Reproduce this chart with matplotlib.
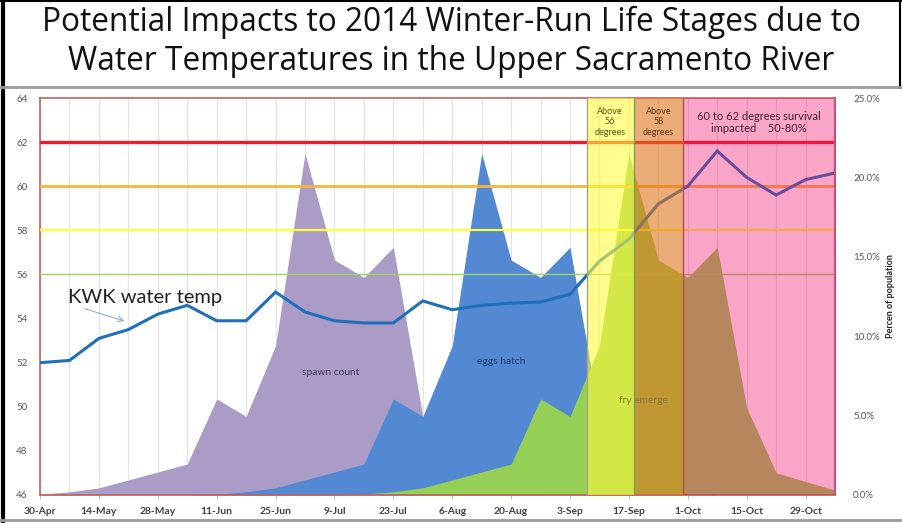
import matplotlib
matplotlib.use("Agg")
import matplotlib.pyplot as plt
from matplotlib.lines import Line2D

plt.rcParams['font.family'] = ['Lato', 'DejaVu Sans']

# weekly sample dates (2014)
dates = ['30-Apr', '7-May', '14-May', '21-May', '28-May', '4-Jun', '11-Jun', '18-Jun',
         '25-Jun', '2-Jul', '9-Jul', '16-Jul', '23-Jul', '30-Jul', '6-Aug', '13-Aug',
         '20-Aug', '27-Aug', '3-Sep', '10-Sep', '17-Sep', '24-Sep', '1-Oct', '8-Oct',
         '15-Oct', '22-Oct', '29-Oct', '5-Nov']

# KWK water temp (deg F)
temp = [52.0, 52.1, 53.1, 53.5, 54.2, 54.6, 53.9, 53.9, 55.2, 54.3, 53.9, 53.8, 53.8, 54.8,
        54.4, 54.6, 54.7, 54.75, 55.1, 56.6, 57.6, 59.2, 60.0, 61.6, 60.4, 59.6, 60.3, 60.6]

# percent of population
spawn = [0.05, 0.2, 0.45, 0.95, 1.45, 1.95, 6.05, 4.95, 9.4, 21.5, 14.8, 13.7, 15.6, 4.95,
         1.4, 0.85, 0.3, 0, 0, 0, 0, 0, 0, 0, 0, 0, 0, 0]
eggs = [0, 0, 0, 0, 0, 0, 0.05, 0.2, 0.45, 0.95, 1.45, 1.95, 6.05, 4.95,
        9.4, 21.5, 14.8, 13.7, 15.6, 4.95, 1.4, 0.85, 0.3, 0, 0, 0, 0, 0]
fry = [0, 0, 0, 0, 0, 0, 0, 0, 0, 0, 0, 0.05, 0.2, 0.45,
       0.95, 1.45, 1.95, 6.05, 4.95, 9.4, 21.5, 14.8, 13.7, 15.6, 5.5, 1.4, 0.85, 0.3]

# temperature thresholds
thresholds = [62, 60, 58, 56]
threshold_colors = ['#ee1d27', '#f8b53a', '#ffff3a', '#9fd35e']
threshold_widths = [2.4, 2.0, 1.6, 1.0]

# shaded windows (in week index)
bands = [(18.57, 20.17), (20.17, 21.83), (21.83, 27.0)]
band_colors = ['#fdfa3f', '#dd721a', '#f10c6a']
band_alphas = [0.6, 0.59, 0.37]
band_edges = ['#a8a878', '#7aa060', '#b05050']

x = list(range(len(dates)))

fig = plt.figure(figsize=(9.02, 5.23), dpi=100)
ax = fig.add_axes([40/902, 28/523, 795/902, 397/523])
ax2 = ax.twinx()
ax.set_zorder(ax2.get_zorder() + 1)
ax.patch.set_visible(False)
ax2.patch.set_visible(False)

# right axis: areas
ax2.vlines(x, 0, 25, color='#e4e4e4', lw=0.9, zorder=0)
ax2.fill_between(x, spawn, color='#ab9cc7', lw=0, zorder=1)
ax2.fill_between(x, eggs, color='#5289d2', lw=0, zorder=2)
ax2.fill_between(x, fry, color='#95cf55', lw=0, zorder=3)
ax2.set_ylim(0, 25)
ax2.set_yticks([0, 5, 10, 15, 20, 25])
ax2.set_yticklabels(['%.1f%%' % v for v in [0, 5, 10, 15, 20, 25]])
ax2.tick_params(axis='y', length=0, pad=13, labelsize=7, labelcolor='#595959')
for s in ax2.spines.values():
    s.set_visible(False)
ax2.set_ylabel('Percen of population', fontsize=6.5, fontweight='bold', color='#222222')
ax2.yaxis.set_label_coords(1.064, 0.5)

ax2.text(9.86, 7.7, 'spawn count', fontsize=7.4, color='#3f3a55', ha='center', va='center', zorder=4)
ax2.text(15.65, 8.4, 'eggs hatch', fontsize=7.4, color='#1f3a6e', ha='center', va='center', zorder=4)

# left axis: temperature
for t, c, w in zip(thresholds, threshold_colors, threshold_widths):
    ax.axhline(t, color=c, lw=w, zorder=3)
ax.plot(x, temp, color='#1f6fb9', lw=2.2, zorder=4, solid_joinstyle='miter')

for (a, b), c, al, ec in zip(bands, band_colors, band_alphas, band_edges):
    ax.axvspan(a, b, facecolor=c, alpha=al, lw=0, zorder=5)
    ax.axvline(a, color=ec, lw=1.0, zorder=5)
ax.axvline(bands[-1][1], color='#c8507a', lw=1.5, zorder=5)

ax.text(20.5, 50.3, 'fry emerge', fontsize=7.4, color='#8a7a3c', ha='center', va='center', zorder=6)
ax.text(19.35, 63.6, 'Above\n56\ndegrees', fontsize=6.5, color='#5c5c1e', ha='center', va='top',
        linespacing=1.2, zorder=6)
ax.text(21.0, 63.6, 'Above\n58\ndegrees', fontsize=6.5, color='#5e3418', ha='center', va='top',
        linespacing=1.2, zorder=6)
ax.text(24.4, 63.4, '60 to 62 degrees survival\nimpacted    50-80%', fontsize=8, color='#40202e',
        ha='center', va='top', linespacing=1.1, zorder=6)

ax.text(0.95, 54.72, 'KWK water temp', fontsize=14.5, color='#222222', ha='left', va='baseline', zorder=6)
ax.annotate('', xy=(2.96, 53.85), xytext=(1.43, 54.48),
            arrowprops=dict(arrowstyle='->', color='#8fb0d8', lw=0.8), zorder=6)

ax.set_xlim(0, len(dates) - 1)
ax.set_ylim(46, 64)
ax.set_yticks(range(46, 65, 2))
ax.tick_params(axis='y', length=0, pad=9, labelsize=7, labelcolor='#595959')
ax.set_xticks(x[::2])
ax.set_xticklabels(dates[::2], fontweight='bold')
ax.tick_params(axis='x', length=3, color='#bbbbbb', pad=6, labelsize=7.4, labelcolor='#404040')
for side in ['left', 'top', 'bottom']:
    ax.spines[side].set_color('#c5605c')
    ax.spines[side].set_linewidth(1.2)
ax.spines['right'].set_color('#c8507a')
ax.spines['right'].set_linewidth(1.5)

# title panel and frame
fig.text(0.5, 1 - 42/523, 'Potential Impacts to 2014 Winter-Run Life Stages due to\n'
         'Water Temperatures in the Upper Sacramento River',
         ha='center', va='center', fontsize=22.8, color='#111111', linespacing=1.22,
         family=['Open Sans', 'DejaVu Sans'])
fig.add_artist(Line2D([3/902, 3/902], [0, 1], color='black', lw=3))
fig.add_artist(Line2D([0, 1], [1 - 1/523, 1 - 1/523], color='black', lw=1.5))
fig.add_artist(Line2D([900/902, 900/902], [1 - 88/523, 1], color='black', lw=1.5))
fig.add_artist(Line2D([0, 1], [1 - 87/523, 1 - 87/523], color='#9a9a9a', lw=2))
fig.add_artist(Line2D([0, 1], [1 - 520/523, 1 - 520/523], color='#9a9a9a', lw=2))

fig.savefig('out.png', dpi=100)
